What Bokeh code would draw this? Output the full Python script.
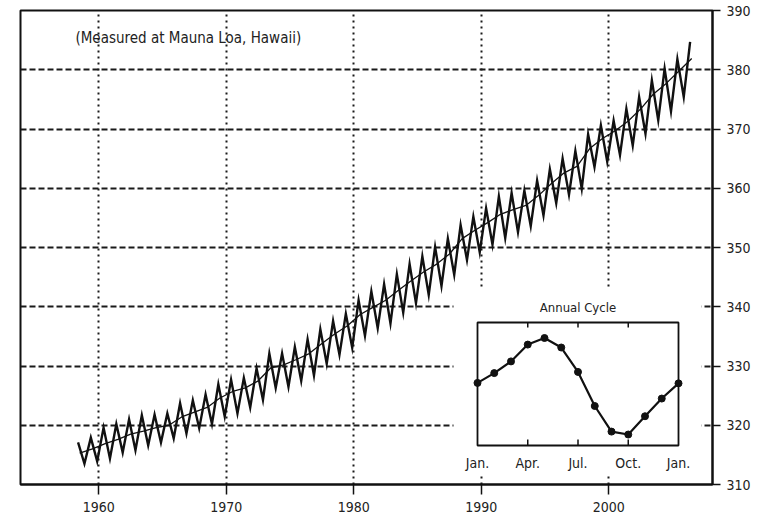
from bokeh.plotting import figure
from bokeh.models import Range1d, FixedTicker
from bokeh.core.properties import value
from bokeh.embed import file_html
from bokeh.resources import INLINE

# ---------------- data ----------------
years = list(range(1958, 2007))
# seasonal maxima (ppm), 1958-2006
may_peak = [317.1, 317.9, 319.6, 320.2, 321.0, 321.7, 321.8, 322.0, 323.7, 324.2,
            325.2, 326.9, 327.7, 328.0, 329.6, 332.1, 332.1, 333.2, 334.5, 336.2,
            337.6, 338.8, 341.1, 342.6, 343.8, 345.5, 347.2, 348.5, 350.1, 351.5,
            353.8, 355.2, 356.6, 358.6, 359.2, 359.6, 361.3, 363.2, 365.0, 366.3,
            369.1, 370.6, 371.4, 373.4, 375.4, 378.2, 380.2, 381.8, 384.7]
# seasonal minima (ppm), 1958-2005
oct_trough = [313.5, 313.9, 314.4, 315.4, 315.8, 316.6, 317.1, 317.8, 318.6, 319.5,
              320.2, 321.5, 322.0, 323.0, 324.3, 326.3, 326.5, 327.5, 328.4, 330.4,
              331.9, 333.1, 335.1, 336.4, 337.2, 339.0, 340.6, 342.0, 343.5, 345.4,
              347.9, 349.2, 350.5, 351.6, 352.6, 353.6, 355.4, 357.5, 358.9, 359.9,
              363.6, 364.5, 365.6, 367.2, 369.2, 371.5, 373.0, 375.4]
annual_mean = [315.3, 316.0, 316.9, 317.6, 318.5, 319.0, 319.6, 320.0, 321.4, 322.2,
               323.0, 324.6, 325.7, 326.3, 327.5, 329.7, 330.2, 331.1, 332.1, 333.8,
               335.4, 336.8, 338.7, 339.9, 341.1, 342.8, 344.4, 345.9, 347.2, 348.9,
               351.5, 352.9, 354.2, 355.6, 356.4, 357.1, 358.8, 360.8, 362.6, 363.7,
               366.7, 368.4, 369.7, 371.3, 373.4, 375.9, 377.7, 379.8, 381.9]
PEAK_MONTH, TROUGH_MONTH = 5, 11

x_ticks = [1960, 1970, 1980, 1990, 2000]
y_ticks = [310, 320, 330, 340, 350, 360, 370, 380, 390]

# annual cycle (deviation from annual mean, ppm), Jan .. next Jan
cycle_month = list(range(13))
cycle_dev = [0.23, 0.9, 1.7, 2.85, 3.3, 2.65, 0.98, -1.35, -3.1, -3.3, -2.05, -0.84, 0.2]
cycle_tick_months = [0, 3, 6, 9, 12]
cycle_tick_labels = ["Jan.", "Apr.", "Jul.", "Oct.", "Jan."]

# ---------------- layout constants ----------------
FONT = "DejaVu Sans Condensed, Liberation Sans, sans-serif"
OFF = 0
W, H = 760, 519
B_LEFT, B_TOP, B_RIGHT, B_BOTTOM = 20, 10, 48, 35
# frame in page pixels
FL, FT = OFF + B_LEFT, OFF + B_TOP
FR, FB = OFF + W - B_RIGHT, OFF + H - B_BOTTOM
# inset box in page pixels and its data box
BL, BR, BT, BB = 477, 678, 322, 445
IX0, IX1, IY0, IY1 = 0, 12, -4.05, 4.36

p = figure(width=W, height=H, output_backend="svg", toolbar_location=None,
           x_range=Range1d(1953.86, 2008.13), y_range=Range1d(310, 390),
           y_axis_location="right",
           min_border_left=B_LEFT, min_border_top=B_TOP,
           min_border_right=B_RIGHT, min_border_bottom=B_BOTTOM)
p.background_fill_color = "white"
p.border_fill_color = "white"
p.outline_line_color = "#111111"
p.outline_line_width = 2

# axes
for ax in (p.xaxis[0], p.yaxis[0]):
    ax.axis_line_width = 2
    ax.axis_line_color = "#111111"
    ax.major_tick_line_color = "#111111"
    ax.major_tick_line_width = 1.5
    ax.minor_tick_line_color = None
    ax.major_tick_in = 0
    ax.major_label_text_font = FONT
    ax.major_label_text_color = "#222222"
p.xaxis.ticker = FixedTicker(ticks=x_ticks)
p.yaxis.ticker = FixedTicker(ticks=y_ticks)
p.xaxis.major_label_text_font_size = "14px"
p.yaxis.major_label_text_font_size = "14px"
p.xaxis.major_tick_out = 10
p.xaxis.major_label_standoff = 7
p.yaxis.major_tick_out = 8
p.yaxis.major_label_standoff = 6

# grids
p.xgrid.ticker = FixedTicker(ticks=x_ticks)
p.ygrid.ticker = FixedTicker(ticks=y_ticks[1:-1])
p.xgrid.grid_line_color = "#1a1a1a"
p.xgrid.grid_line_width = 2
p.xgrid.grid_line_dash = "2 4"
p.ygrid.grid_line_color = "#1a1a1a"
p.ygrid.grid_line_width = 2
p.ygrid.grid_line_dash = "6 3"

# main curve: zigzag between seasonal maxima and minima
zx, zy = [], []
for i, yr in enumerate(years):
    zx.append(yr + (PEAK_MONTH - 0.5) / 12)
    zy.append(may_peak[i])
    if i < len(oct_trough):
        zx.append(yr + (TROUGH_MONTH - 0.5) / 12)
        zy.append(oct_trough[i])
p.line(zx, zy, line_color="#111111", line_width=2.4, line_join="miter")
p.line([y + 0.5 for y in years], annual_mean, line_color="#111111", line_width=1.3)

p.text(x=[1958.17], y=[385.3], text=["(Measured at Mauna Loa, Hawaii)"],
       text_font=value(FONT), text_font_size="15px", text_color="#222222",
       text_baseline="middle", text_align="left")

# ---------------- inset via extra ranges ----------------
sx = (BR - BL) / (IX1 - IX0)
sy = (BB - BT) / (IY1 - IY0)
p.extra_x_ranges = {"mon": Range1d(IX0 - (BL - FL) / sx, IX1 + (FR - BR) / sx)}
p.extra_y_ranges = {"dev": Range1d(IY0 - (FB - BB) / sy, IY1 + (BT - FT) / sy)}
kw = dict(x_range_name="mon", y_range_name="dev")

def mx(px):
    return IX0 + (px - BL) / sx

def my(py):
    return IY0 + (BB - py) / sy

# white panel hiding the grid behind the inset
p.quad(left=[mx(453)], right=[mx(701)], bottom=[my(473)], top=[my(289)],
       fill_color="white", line_color=None, **kw)
# inset box
p.quad(left=[IX0], right=[IX1], bottom=[IY0], top=[IY1],
       fill_color=None, line_color="#111111", line_width=1.8, **kw)
# inset ticks
inner = cycle_tick_months[1:-1]
tick_len_top = 5 / sy
tick_len_bot = 6 / sy
p.segment(x0=inner, x1=inner, y0=[IY1] * 3, y1=[IY1 - tick_len_top] * 3,
          line_color="#111111", line_width=1.5, **kw)
p.segment(x0=inner, x1=inner, y0=[IY0] * 3, y1=[IY0 + tick_len_bot] * 3,
          line_color="#111111", line_width=1.5, **kw)
# cycle curve
p.line(cycle_month, cycle_dev, line_color="#111111", line_width=2.2, **kw)
p.scatter(cycle_month, cycle_dev, size=7, fill_color="#111111",
          line_color="#111111", **kw)
# labels
p.text(x=cycle_tick_months, y=[IY0] * 5, text=cycle_tick_labels, y_offset=17,
       text_font=value(FONT), text_font_size="14px", text_color="#222222",
       text_align="center", text_baseline="middle", **kw)
p.text(x=[(IX0 + IX1) / 2], y=[IY1], text=["Annual Cycle"], y_offset=-15,
       text_font=value(FONT), text_font_size="13px", text_color="#222222",
       text_align="center", text_baseline="middle", **kw)

open("out.html", "w").write(file_html(p, INLINE))
